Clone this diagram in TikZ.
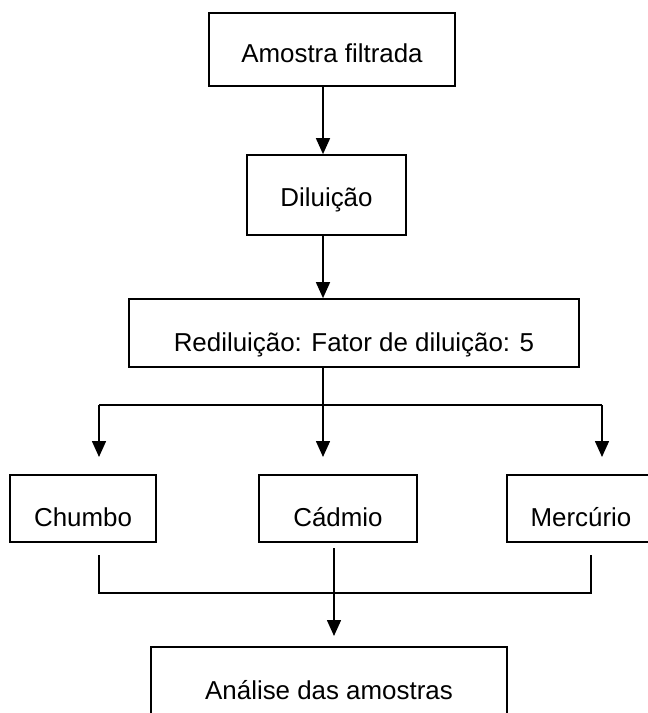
\documentclass[tikz,border=0pt]{standalone}
\usepackage{fontspec}
\setmainfont{Liberation Sans}
\usetikzlibrary{arrows.meta}
\begin{document}
\begin{tikzpicture}[x=1pt,y=-1pt,
  box/.style={draw, line width=1.7pt, inner sep=0pt, font=\fontsize{25.9}{30}\selectfont, text height=18.6pt, text depth=0pt},
  conn/.style={line width=1.6pt},
  arr/.style={conn, -{Triangle[length=16pt,width=14pt]}}]
\useasboundingbox (0,0) rectangle (648,713);
\fill[white] (0,0) rectangle (648,713);
% boxes
\node[box, text height=25.6pt, minimum width=246pt, minimum height=73pt] (amostra) at (332,49.5) {Amostra filtrada};
\node[box, text height=23.6pt, minimum width=159pt, minimum height=80pt] (dil) at (326.5,195) {Diluição};
\node[box, text height=36.6pt, minimum width=450pt, minimum height=68pt] (redil) at (354,333) {Rediluição: Fator de diluição: 5};
\node[box, text height=36.6pt, minimum width=146pt, minimum height=67pt] (chumbo) at (83,508.5) {Chumbo};
\node[box, text height=36.6pt, minimum width=157.5pt, minimum height=67pt] (cadmio) at (338,508.5) {Cádmio};
\node[box, text height=36.6pt, minimum width=148pt, minimum height=67pt] (mercurio) at (581,508.5) {Mercúrio};
\node[box, minimum width=356pt, minimum height=86pt] (analise) at (329,690) {Análise das amostras};
% helper coordinates
\coordinate (cx) at (323,0);
\coordinate (sL) at (99,405);
\coordinate (sM) at (323,405);
\coordinate (sR) at (602,405);
\coordinate (tL) at (99,457);
\coordinate (tM) at (323,457);
\coordinate (tR) at (602,457);
\coordinate (uL) at (99,555);
\coordinate (uM) at (334,548);
\coordinate (uR) at (591,555);
\coordinate (jL) at (99,593);
\coordinate (jR) at (591,593);
\coordinate (tA) at (334,636);
% connectors
\draw[arr] (amostra.south -| cx) -- (dil.north -| cx);
\draw[arr] (dil.south -| cx) -- (redil.north -| cx);
\draw[conn] (redil.south -| cx) -- (sM);
\draw[conn] (sL) -- (sR);
\draw[arr] (sL) -- (tL);
\draw[arr] (sM) -- (tM);
\draw[arr] (sR) -- (tR);
\draw[conn] (uL) -- (jL) -- (jR) -- (uR);
\draw[arr] (uM) -- (tA);
\end{tikzpicture}
\end{document}
